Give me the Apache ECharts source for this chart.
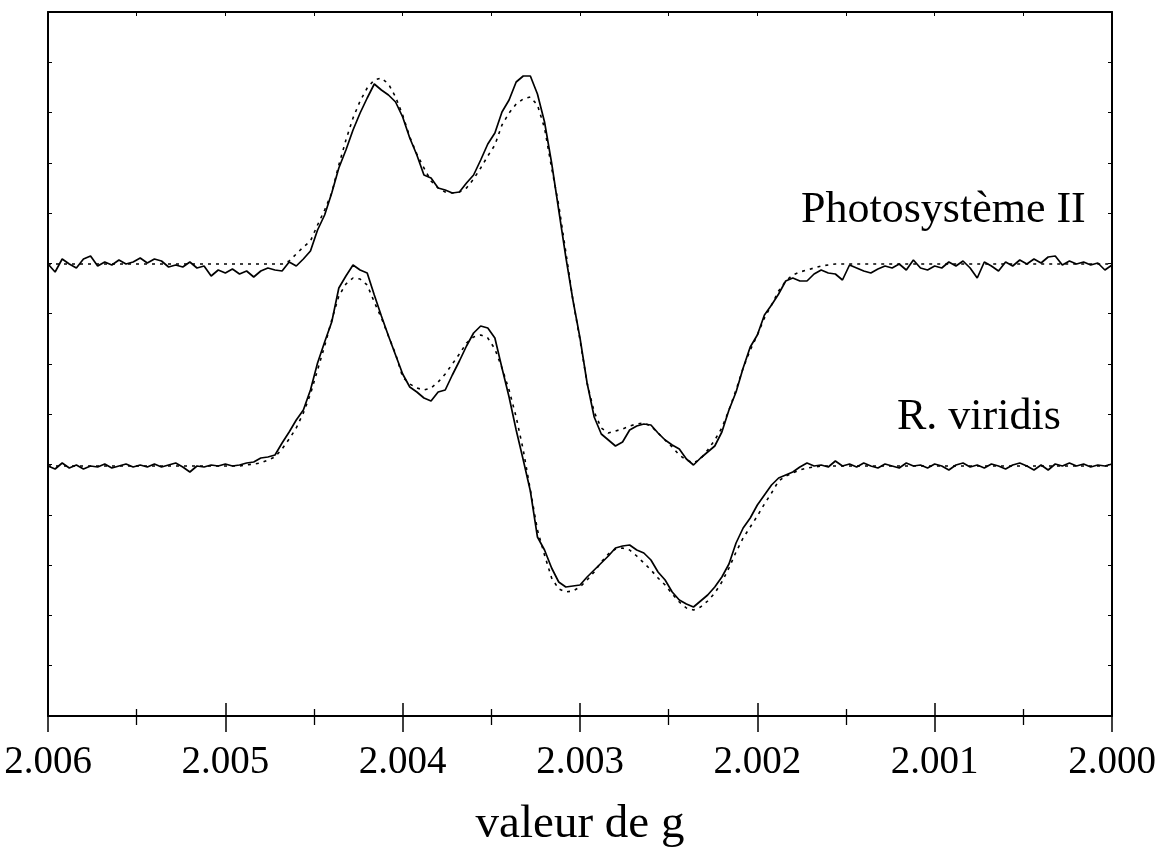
<!DOCTYPE html>
<html>
<head>
<meta charset="utf-8">
<script src="https://cdn.jsdelivr.net/npm/echarts@6/dist/echarts.min.js"></script>
<style>
html,body{margin:0;padding:0;background:#fff;}
#chart{width:1161px;height:848px;}
</style>
</head>
<body>
<div id="chart"></div>
<script>
// g-value sampling of the spectra (field sweep from 2.006 down to 2.000)
const gStart = 2.006;
const gStep = 0.00004;
const nPts = 151;

// x tick labels
const xTickLabels = ['2.006', '2.005', '2.004', '2.003', '2.002', '2.001', '2.000'];
const xTitle = 'valeur de g';
const labelPSII = 'Photosystème II';
const labelRv = 'R. viridis';

// Photosystème II – experimental (solid)
const psiiExp = [
452,444,457,452,448,457,460,450,454,451,
456,452,454,458,453,457,455,449,451,449,
454,448,450,440,446,443,447,442,445,439,
445,448,446,445,454,450,457,465,486,501,
523,548,566,586,603,618,632,626,621,614,
599,578,561,541,538,528,526,523,524,533,
541,556,572,583,604,616,634,640,640,622,
594,553,506,459,416,378,333,299,282,276,
270,274,286,290,292,291,283,276,271,267,
257,251,258,264,270,284,306,324,348,369,
381,401,411,422,435,438,435,435,442,446,
443,442,436,451,448,445,443,447,450,448,
452,446,456,448,446,450,448,454,450,455,
448,438,454,450,445,454,450,456,452,457,
453,459,460,451,455,452,454,451,453,446,451
];

// Photosystème II – simulation (dashed)
const psiiSim = [
452,452,452,452,452,452,452,452,452,452,
452,452,452,452,452,452,452,452,452,452,
452,452,452,452,452,452,452,452,452,452,
452,452,452,452,455,462,469,475,491,506,
523,551,576,598,615,628,636,638,632,619,
601,579,562,548,535,528,524,523,524,528,
537,548,560,571,591,603,612,617,619,611,
588,548,511,464,416,376,333,304,288,283,
285,287,290,292,293,290,283,276,269,261,
256,253,257,266,276,288,306,326,348,366,
381,398,411,425,435,441,444,446,448,450,
451,452,452,452,452,452,452,452,452,452,
452,452,452,452,452,452,452,452,452,452,
452,452,452,452,452,452,452,452,452,452,
452,452,452,452,452,452,452,452,452,452,452
];

// R. viridis – experimental (solid)
const rvExp = [
250,247,253,248,251,247,250,249,252,248,
250,252,249,251,249,252,249,251,253,249,
244,250,249,251,250,252,250,251,253,254,
258,259,261,273,284,296,306,326,353,374,
394,428,440,451,446,443,421,400,380,361,
342,329,324,318,315,324,326,341,355,370,
383,390,388,378,348,319,286,256,225,179,
166,148,134,129,130,131,139,146,153,160,
168,170,171,166,163,156,144,136,124,116,
112,109,115,121,129,139,152,173,188,198,
211,221,231,238,241,244,249,253,250,251,
249,255,250,252,249,253,250,248,252,250,
248,253,250,251,248,252,250,246,251,253,
249,251,248,252,250,247,251,253,250,246,
251,246,252,250,253,250,252,249,251,250,252
];

// R. viridis – simulation (dashed)
const rvSim = [
250,250,250,250,250,250,250,250,250,250,
250,250,250,250,250,250,250,250,250,250,
250,250,250,250,250,250,250,250,251,252,
253,256,259,267,277,288,303,322,346,370,
396,420,432,438,437,431,414,398,380,362,
339,332,328,326,328,334,342,352,362,373,
379,381,378,367,348,326,299,266,226,186,
161,138,127,124,125,129,136,144,154,162,
167,168,166,160,153,146,138,131,122,114,
108,106,109,115,123,134,148,164,178,189,
200,212,223,235,240,243,246,248,249,250,
250,250,250,250,250,250,250,250,250,250,
250,250,250,250,250,250,250,250,250,250,
250,250,250,250,250,250,250,250,250,250,
250,250,250,250,250,250,250,250,250,250,250
];

const gValues = [];
for (let i = 0; i < nPts; i++) gValues.push(+(gStart - i * gStep).toFixed(6));
const pairs = arr => arr.map((v, i) => [gValues[i], v]);

const FONT = "'Liberation Serif', 'Times New Roman', serif";
const chart = echarts.init(document.getElementById('chart'), null, {renderer: 'canvas'});

const xBase = {
  type: 'value', min: 2.000, max: 2.006, inverse: true, interval: 0.001,
  splitLine: {show: false}
};
const yBase = {
  type: 'value', min: 0, max: 704, interval: 704 / 14,
  splitLine: {show: false}, axisLabel: {show: false}
};

const solidStyle = {color: '#000', width: 1.7};
const dashStyle = {color: '#000', width: 1.6, type: [3, 5]};

chart.setOption({
  animation: false,
  backgroundColor: '#fff',
  grid: {left: 48, right: 49, top: 12, bottom: 132, containLabel: false, outerBoundsMode: 'none'},
  xAxis: [
    Object.assign({}, xBase, {
      position: 'bottom',
      axisLine: {show: true, lineStyle: {color: '#000', width: 2}},
      axisTick: {show: true, inside: false, length: 16, lineStyle: {color: '#000', width: 1.5}},
      minorTick: {show: true, splitNumber: 2, length: 9, lineStyle: {color: '#000', width: 1.3}},
      axisLabel: {
        show: true, color: '#000', fontSize: 39, fontFamily: FONT, margin: 27,
        formatter: v => xTickLabels[Math.round((2.006 - v) / 0.001)]
      },
      name: xTitle, nameLocation: 'middle', nameGap: 85,
      nameTextStyle: {color: '#000', fontSize: 47, fontFamily: FONT}
    }),
    Object.assign({}, xBase, {
      position: 'bottom',
      axisLine: {show: false},
      axisTick: {show: true, inside: true, length: 13, lineStyle: {color: '#000', width: 1.5}},
      minorTick: {show: true, splitNumber: 2, length: 7, lineStyle: {color: '#000', width: 1.3}},
      axisLabel: {show: false}
    }),
    Object.assign({}, xBase, {
      position: 'top', interval: 0.0005,
      axisLine: {show: true, lineStyle: {color: '#000', width: 2}},
      axisTick: {show: true, inside: true, length: 4, lineStyle: {color: '#000', width: 1}},
      axisLabel: {show: false}
    })
  ],
  yAxis: [
    Object.assign({}, yBase, {
      position: 'left',
      axisLine: {show: true, lineStyle: {color: '#000', width: 2}},
      axisTick: {show: true, inside: true, length: 4, lineStyle: {color: '#000', width: 1}}
    }),
    Object.assign({}, yBase, {
      position: 'right',
      axisLine: {show: true, lineStyle: {color: '#000', width: 2}},
      axisTick: {show: true, inside: true, length: 4, lineStyle: {color: '#000', width: 1}}
    })
  ],
  series: [
    {type: 'line', name: 'PSII sim', data: pairs(psiiSim), showSymbol: false, lineStyle: dashStyle, z: 2},
    {type: 'line', name: 'Rv sim', data: pairs(rvSim), showSymbol: false, lineStyle: dashStyle, z: 2},
    {type: 'line', name: 'PSII exp', data: pairs(psiiExp), showSymbol: false, lineStyle: solidStyle, z: 3},
    {type: 'line', name: 'Rv exp', data: pairs(rvExp), showSymbol: false, lineStyle: solidStyle, z: 3}
  ],
  graphic: [
    {type: 'text', x: 801, y: 210, style: {text: labelPSII, font: '44px ' + FONT, fill: '#000', verticalAlign: 'middle', align: 'left'}},
    {type: 'text', x: 897, y: 417, style: {text: labelRv, font: '44px ' + FONT, fill: '#000', verticalAlign: 'middle', align: 'left'}}
  ]
});
</script>
</body>
</html>
